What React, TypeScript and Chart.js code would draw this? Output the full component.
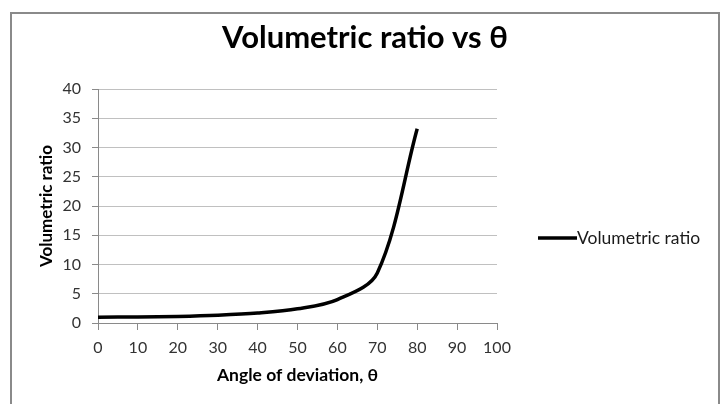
import React, { useEffect, useRef } from "react";
import { Chart, registerables } from "chart.js";

Chart.register(...registerables);

const chartTitle = "Volumetric ratio vs θ";
const seriesLabel = "Volumetric ratio";
const xAxisTitle = "Angle of deviation, θ";
const yAxisTitle = "Volumetric ratio";
const angles = [0, 10, 20, 30, 40, 50, 60, 70, 80];
const ratios = [1.0, 1.03, 1.13, 1.33, 1.7, 2.42, 4.0, 8.55, 33.2];
const xTicks = [0, 10, 20, 30, 40, 50, 60, 70, 80, 90, 100];
const yTicks = [0, 5, 10, 15, 20, 25, 30, 35, 40];

const FONT = "Lato";

const decorPlugin = {
  id: "decor",
  afterDraw(chart: any) {
    const ctx = chart.ctx;
    ctx.save();
    // outer border
    ctx.strokeStyle = "#8a8a8a";
    ctx.lineWidth = 2;
    ctx.strokeRect(11, 13, 708, 500);
    // title
    ctx.fillStyle = "#000000";
    ctx.font = `bold 31px ${FONT}`;
    ctx.textAlign = "center";
    ctx.textBaseline = "alphabetic";
    ctx.fillText(chartTitle, 365, 48);
    // legend
    const ds = chart.data.datasets[0];
    ctx.strokeStyle = ds.borderColor;
    ctx.lineWidth = 3.5;
    ctx.beginPath();
    ctx.moveTo(538, 238);
    ctx.lineTo(577, 238);
    ctx.stroke();
    ctx.fillStyle = "#1a1a1a";
    ctx.font = `17.5px ${FONT}`;
    ctx.textAlign = "left";
    ctx.fillText(ds.label, 577, 244);
    ctx.restore();
  },
};

export default function App() {
  const ref = useRef<HTMLCanvasElement>(null);
  useEffect(() => {
    if (!ref.current) return;
    const chart = new Chart(ref.current, {
      type: "line",
      data: {
        datasets: [
          {
            label: seriesLabel,
            data: angles.map((a, i) => ({ x: a, y: ratios[i] })),
            borderColor: "#000000",
            backgroundColor: "#000000",
            borderWidth: 3.5,
            pointRadius: 0,
            tension: 0.33,
          },
        ],
      },
      options: {
        animation: false,
        responsive: false,
        layout: { padding: { left: 11, right: 227, top: 89, bottom: 0 } },
        plugins: {
          legend: { display: false },
          title: { display: false },
          tooltip: { enabled: false },
        },
        scales: {
          x: {
            type: "linear",
            min: 0,
            max: 100,
            afterBuildTicks: (s: any) => {
              s.ticks = xTicks.map((v) => ({ value: v }));
            },
            afterFit: (s: any) => {
              s.height = 81;
            },
            ticks: {
              color: "#333333",
              font: { family: FONT, size: 16 },
              padding: 8,
              maxRotation: 0,
              autoSkip: false,
            },
            grid: {
              drawOnChartArea: false,
              drawTicks: true,
              tickLength: 7,
              tickColor: "#8a8a8a",
              color: "#8a8a8a",
            },
            border: { color: "#8a8a8a", width: 1 },
            title: {
              display: true,
              text: xAxisTitle,
              color: "#000000",
              font: { family: FONT, size: 17.5, weight: "bold" },
              padding: { top: 0, bottom: 18 },
            },
          },
          y: {
            type: "linear",
            min: 0,
            max: 40,
            afterBuildTicks: (s: any) => {
              s.ticks = yTicks.map((v) => ({ value: v }));
            },
            afterFit: (s: any) => {
              s.width = 87;
            },
            ticks: {
              color: "#333333",
              font: { family: FONT, size: 16 },
              padding: 11,
              autoSkip: false,
            },
            grid: {
              color: "#c0c0c0",
              tickColor: "#8a8a8a",
              tickLength: 6,
            },
            border: { color: "#8a8a8a", width: 1 },
            title: {
              display: true,
              text: yAxisTitle,
              color: "#000000",
              font: { family: FONT, size: 17, weight: "bold" },
              padding: { top: 25, bottom: 0 },
            },
          },
        },
      },
      plugins: [decorPlugin],
    } as any);
    return () => chart.destroy();
  }, []);
  return (
    <div style={{ position: "absolute", left: 0, top: 0, width: 724, height: 404, background: "#fff" }}>
      <canvas ref={ref} width={724} height={404} style={{ display: "block", width: 724, height: 404 }} />
    </div>
  );
}
